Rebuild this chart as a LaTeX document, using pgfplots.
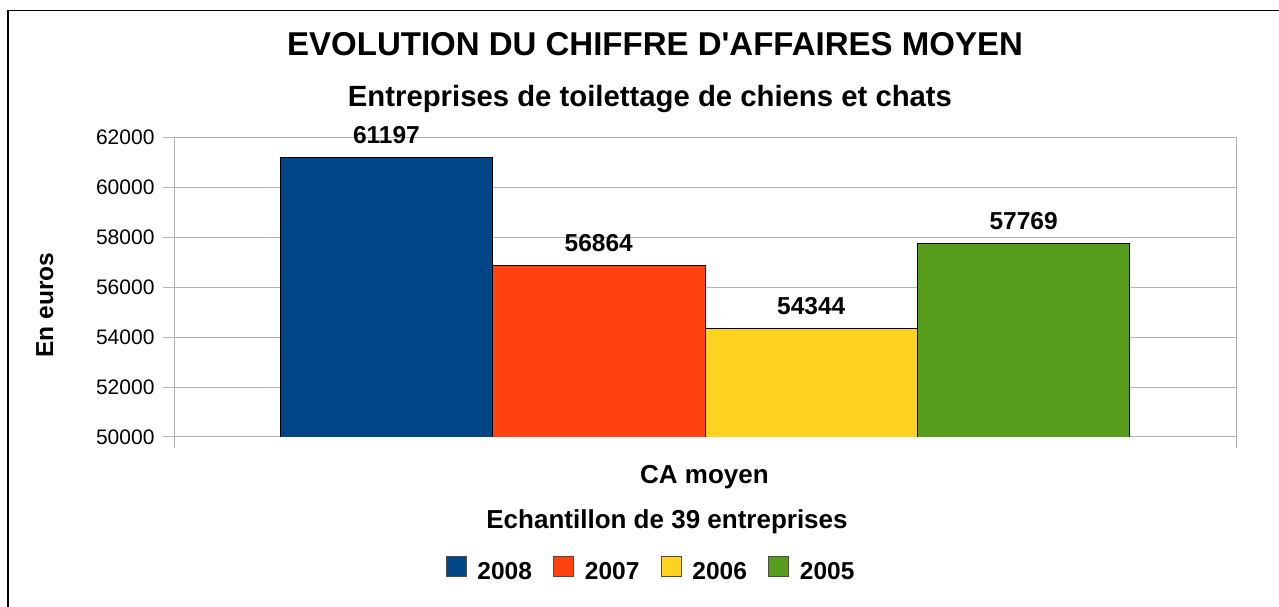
\documentclass[border=0pt]{standalone}
\usepackage{fontspec}
\setmainfont{Liberation Sans}
\usepackage{pgfplots}
\pgfplotsset{compat=1.18}
\definecolor{c2008}{HTML}{004586}
\definecolor{c2007}{HTML}{FF420E}
\definecolor{c2006}{HTML}{FFD320}
\definecolor{c2005}{HTML}{579D1C}
\definecolor{gridc}{HTML}{B3B3B3}
\newcommand{\fs}[1]{\fontsize{#1}{#1}\selectfont}
\begin{document}
\begin{tikzpicture}[x=1pt,y=1pt]
\path[use as bounding box] (0,0) rectangle (1279,607);
\draw[black, line width=1.2pt] (8,0) -- (8,596.3) -- (1279,596.3);
\begin{axis}[
  at={(174pt,170pt)}, anchor=south west,
  scale only axis, width=1062pt, height=299.5pt,
  xmin=0, xmax=1, ymin=50000, ymax=62000,
  ytick={50000,52000,...,62000},
  scaled y ticks=false,
  xtick={0,1}, xticklabels={},
  xtick pos=bottom, ytick pos=left,
  tick align=outside, major tick length=11pt,
  ymajorgrids, grid style={gridc, line width=1pt},
  axis line style={gridc, line width=1pt},
  tick style={gridc, line width=1pt},
  /pgf/number format/assume math mode=true,
  /pgf/number format/1000 sep={},
  yticklabel style={font=\fs{21}, xshift=-5pt, /pgf/number format/fixed},
  ybar, bar width=0.2, bar shift=0pt,
  nodes near coords,
  nodes near coords style={font=\bfseries\fs{24.5}, anchor=base, yshift=14pt, /pgf/number format/1000 sep={}},
  legend columns=4,
  legend style={draw=none, fill=none, inner sep=0pt, outer sep=0pt,
    at={(axis description cs:0.2561,-0.3963)}, anchor=north west,
    nodes={inner sep=0pt, anchor=base, font=\bfseries\fs{24.5}},
    /tikz/every odd column/.append style={column sep=10.7pt},
    /tikz/every even column/.append style={column sep=21.5pt}},
  legend image code/.code={\draw[#1, draw=black!70, line width=0.8pt] (0pt,3.8pt) rectangle (20pt,23.8pt);},
]
\addplot[fill=c2008, draw=black, line width=0.8pt] coordinates {(0.2,61197)};
\addplot[fill=c2007, draw=black, line width=0.8pt] coordinates {(0.4,56864)};
\addplot[fill=c2006, draw=black, line width=0.8pt] coordinates {(0.6,54344)};
\addplot[fill=c2005, draw=black, line width=0.8pt] coordinates {(0.8,57769)};
\legend{2008,2007,2006,2005}
\end{axis}
\node[font={\bfseries\fs{33}}, anchor=base, inner sep=0pt] at (655,551.2) {EVOLUTION DU CHIFFRE D\textquotesingle AFFAIRES MOYEN};
\node[font={\bfseries\fs{29.3}}, anchor=base, inner sep=0pt] at (650,500) {Entreprises de toilettage de chiens et chats};
\node[font={\bfseries\fs{26}}, anchor=base, inner sep=0pt] at (704.5,123.7) {CA moyen};
\node[font={\bfseries\fs{26}}, anchor=base, inner sep=0pt] at (667,78.7) {Echantillon de 39 entreprises};
\node[font={\bfseries\fs{24.5}}, anchor=base, inner sep=0pt, rotate=90] at (53,302) {En euros};
\end{tikzpicture}
\end{document}
